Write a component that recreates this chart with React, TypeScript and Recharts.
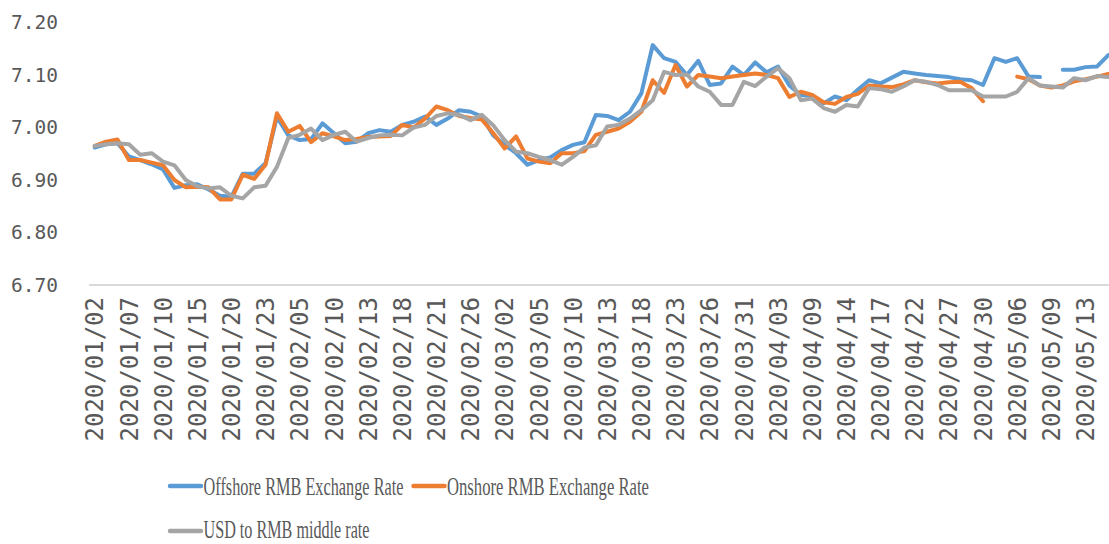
import { LineChart, Line, XAxis, YAxis, Legend } from "recharts";

const dates = [
  "2020/01/02", "2020/01/03", "2020/01/06", "2020/01/07", "2020/01/08", "2020/01/09", "2020/01/10",
  "2020/01/13", "2020/01/14", "2020/01/15", "2020/01/16", "2020/01/17", "2020/01/20", "2020/01/21",
  "2020/01/22", "2020/01/23", "2020/02/03", "2020/02/04", "2020/02/05", "2020/02/06", "2020/02/07",
  "2020/02/10", "2020/02/11", "2020/02/12", "2020/02/13", "2020/02/14", "2020/02/17", "2020/02/18",
  "2020/02/19", "2020/02/20", "2020/02/21", "2020/02/24", "2020/02/25", "2020/02/26", "2020/02/27",
  "2020/02/28", "2020/03/02", "2020/03/03", "2020/03/04", "2020/03/05", "2020/03/06", "2020/03/09",
  "2020/03/10", "2020/03/11", "2020/03/12", "2020/03/13", "2020/03/16", "2020/03/17", "2020/03/18",
  "2020/03/19", "2020/03/20", "2020/03/23", "2020/03/24", "2020/03/25", "2020/03/26", "2020/03/27",
  "2020/03/30", "2020/03/31", "2020/04/01", "2020/04/02", "2020/04/03", "2020/04/07", "2020/04/08",
  "2020/04/09", "2020/04/10", "2020/04/13", "2020/04/14", "2020/04/15", "2020/04/16", "2020/04/17",
  "2020/04/20", "2020/04/21", "2020/04/22", "2020/04/23", "2020/04/24", "2020/04/27", "2020/04/28",
  "2020/04/29", "2020/04/30", "2020/05/04", "2020/05/05", "2020/05/06", "2020/05/07", "2020/05/08",
  "2020/05/09", "2020/05/11", "2020/05/12", "2020/05/13", "2020/05/14", "2020/05/15",
];

const offshore = [
  6.962, 6.968, 6.970, 6.945, 6.938, 6.930, 6.920, 6.885, 6.890, 6.892,
  6.882, 6.870, 6.868, 6.912, 6.912, 6.932, 7.020, 6.985, 6.976, 6.978,
  7.008, 6.989, 6.970, 6.973, 6.989, 6.995, 6.992, 7.005, 7.011, 7.021,
  7.005, 7.017, 7.033, 7.030, 7.021, 6.985, 6.967, 6.951, 6.929, 6.938,
  6.943, 6.957, 6.967, 6.972, 7.024, 7.022, 7.014, 7.030, 7.065, 7.157,
  7.132, 7.125, 7.100, 7.127, 7.081, 7.084, 7.116, 7.100, 7.124, 7.105,
  7.116, 7.080, 7.062, 7.060, 7.046, 7.059, 7.052, 7.072, 7.090, 7.084,
  7.095, 7.106, 7.103, 7.100, 7.098, 7.096, 7.092, 7.090, 7.081, 7.132,
  7.125, 7.132, 7.097, 7.096, null, 7.110, 7.110, 7.115, 7.116, 7.138,
];

const onshore = [
  6.965, 6.973, 6.977, 6.938, 6.938, 6.933, 6.928, 6.900, 6.886, 6.887,
  6.886, 6.863, 6.863, 6.910, 6.902, 6.929, 7.027, 6.992, 7.003, 6.972,
  6.989, 6.983, 6.976, 6.978, 6.982, 6.983, 6.984, 7.005, 7.000, 7.017,
  7.040, 7.033, 7.022, 7.018, 7.015, 6.989, 6.960, 6.983, 6.941, 6.935,
  6.932, 6.951, 6.951, 6.955, 6.986, 6.992, 6.998, 7.011, 7.030, 7.090,
  7.066, 7.119, 7.078, 7.100, 7.097, 7.094, 7.097, 7.100, 7.103, 7.100,
  7.094, 7.058, 7.068, 7.062, 7.048, 7.045, 7.058, 7.064, 7.080, 7.078,
  7.077, 7.082, 7.090, 7.086, 7.084, 7.086, 7.087, 7.075, 7.050, null,
  null, 7.097, 7.092, 7.080, 7.076, 7.080, 7.088, 7.092, 7.097, 7.102,
];

const middle = [
  6.965, 6.968, 6.970, 6.968, 6.948, 6.951, 6.935, 6.928, 6.900, 6.888,
  6.884, 6.886, 6.870, 6.865, 6.886, 6.889, 6.925, 6.980, 6.986, 6.998,
  6.976, 6.986, 6.992, 6.973, 6.980, 6.985, 6.986, 6.985, 7.000, 7.005,
  7.022, 7.027, 7.024, 7.014, 7.024, 7.004, 6.976, 6.954, 6.951, 6.944,
  6.938, 6.929, 6.944, 6.962, 6.966, 7.002, 7.005, 7.017, 7.033, 7.052,
  7.106, 7.100, 7.101, 7.078, 7.068, 7.043, 7.043, 7.087, 7.079, 7.097,
  7.113, 7.094, 7.052, 7.055, 7.037, 7.030, 7.043, 7.040, 7.075, 7.073,
  7.068, 7.078, 7.090, 7.087, 7.081, 7.071, 7.071, 7.071, 7.059, 7.059,
  7.059, 7.068, 7.094, 7.080, 7.078, 7.076, 7.094, 7.090, 7.098, 7.096,
];

const yTicks = [6.7, 6.75, 6.8, 6.85, 6.9, 6.95, 7.0, 7.05, 7.1, 7.15, 7.2];

const legendTextLengths = [200, 202, 166];

const data = dates.map((date, i) => ({
  date,
  offshore: offshore[i],
  onshore: onshore[i],
  middle: middle[i],
}));

const TEXT = "#595959";
const MONO = "'DejaVu Sans Mono', monospace";
const SQUEEZE = 0.62; // legend font in the original is a narrow serif

function DateTick({ x, y, payload }: any) {
  return (
    <g transform={`translate(${x},${y})`}>
      <text
        transform="rotate(-90)"
        x={-4}
        dy="0.36em"
        textAnchor="end"
        fill={TEXT}
        fontSize={24}
        fontFamily={MONO}
      >
        {payload.value}
      </text>
    </g>
  );
}

// legend drawn as an overlay svg so it doesn't eat into the plot area
function LegendRows({ payload }: any) {
  if (!payload?.length) return null;
  const rowY = [486, 531];
  const baseline = [495, 538];
  let cursor = 168;
  return (
    <svg
      width={1109}
      height={544}
      style={{ position: "absolute", left: 0, top: 0, overflow: "visible" }}
    >
      {payload.map((entry: any, i: number) => {
        const row = i < 2 ? 0 : 1;
        if (i === 2) cursor = 168;
        const sx = cursor;
        const tx = sx + 38.5;
        const len = legendTextLengths[i] ?? 180;
        cursor = tx + len + 5;
        return (
          <g key={entry.value}>
            <line
              x1={sx + 2}
              x2={sx + 33}
              y1={rowY[row]}
              y2={rowY[row]}
              stroke={entry.color}
              strokeWidth={4.5}
              strokeLinecap="round"
            />
            <g transform={`translate(${tx - 3},${baseline[row]}) scale(${SQUEEZE},1)`}>
              <text
                x={0}
                y={0}
                fontSize={26}
                fontFamily="'Liberation Serif', serif"
                fill={TEXT}
                textLength={len / SQUEEZE}
                lengthAdjust="spacingAndGlyphs"
              >
                {entry.value}
              </text>
            </g>
          </g>
        );
      })}
    </svg>
  );
}

export default function App() {
  return (
    <div
      style={{
        position: "absolute",
        left: 0,
        top: 0,
        width: 1109,
        height: 544,
        overflow: "hidden",
        background: "#fff",
      }}
    >
      <LineChart
        width={1114}
        height={544}
        data={data}
        margin={{ top: 22.5, right: 0, left: 9, bottom: 89 }}
      >
        <XAxis
          dataKey="date"
          interval={2}
          tickLine={false}
          axisLine={{ stroke: "#d9d9d9", strokeWidth: 2 }}
          padding={{ left: 5.7, right: 5.7 }}
          height={170}
          tick={<DateTick />}
        />
        <YAxis
          domain={[6.7, 7.2]}
          ticks={yTicks}
          width={80}
          axisLine={false}
          tickLine={false}
          tickMargin={25}
          tickFormatter={(v: number) => v.toFixed(2)}
          tick={{ fill: TEXT, fontSize: 19.5, fontFamily: MONO }}
          allowDataOverflow
        />
        <Legend
          content={(props: any) => <LegendRows payload={props.payload} />}
          wrapperStyle={{ left: 0, top: 0, width: 1109, height: 0 }}
        />
        <Line
          type="linear"
          dataKey="offshore"
          name="Offshore RMB Exchange Rate"
          stroke="#5B9BD5"
          strokeWidth={4}
          dot={false}
          strokeLinejoin="round"
          strokeLinecap="round"
          isAnimationActive={false}
        />
        <Line
          type="linear"
          dataKey="onshore"
          name="Onshore RMB Exchange Rate"
          stroke="#ED7D31"
          strokeWidth={4}
          dot={false}
          strokeLinejoin="round"
          strokeLinecap="round"
          isAnimationActive={false}
        />
        <Line
          type="linear"
          dataKey="middle"
          name="USD to RMB middle rate"
          stroke="#A5A5A5"
          strokeWidth={4}
          dot={false}
          strokeLinejoin="round"
          strokeLinecap="round"
          isAnimationActive={false}
        />
      </LineChart>
    </div>
  );
}
